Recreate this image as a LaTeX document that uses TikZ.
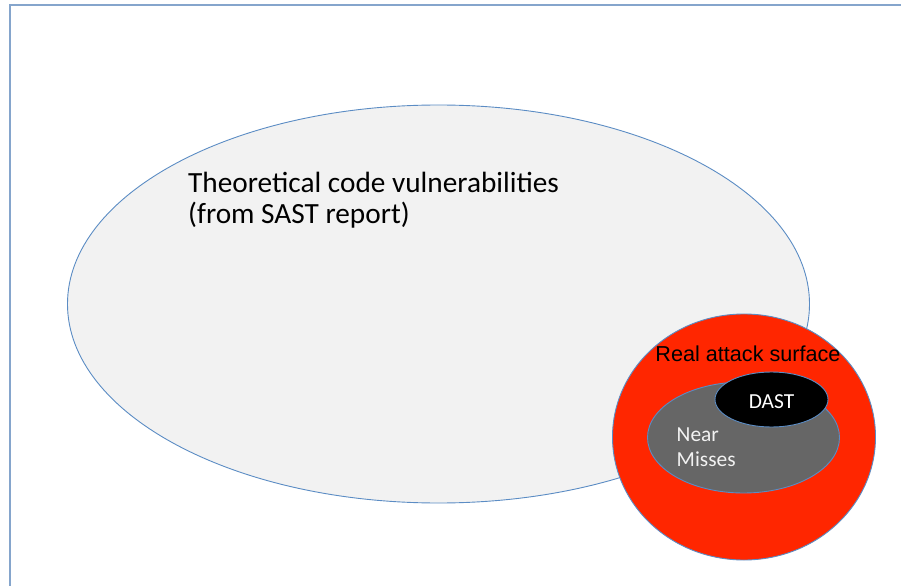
\documentclass[tikz,border=0pt]{standalone}
\usepackage{fontspec}
\setmainfont{Carlito}
\newfontfamily\arialfont{Liberation Sans}
\usetikzlibrary{shapes.geometric}
\definecolor{edgeblue}{HTML}{5B8CC4}
\definecolor{framecol}{HTML}{85A5CC}
\definecolor{paleg}{HTML}{F2F2F2}
\definecolor{redfill}{HTML}{FF2600}
\definecolor{grayfill}{HTML}{666666}
\definecolor{lighttext}{HTML}{F2F2F2}
\begin{document}
\begin{tikzpicture}[x=1bp,y=-1bp,
  blob/.style={ellipse,draw=edgeblue,line width=0.9bp,inner sep=0pt,minimum width=#1},
  frameline/.style={draw=framecol,line width=2.2bp}]
\useasboundingbox (0,0) rectangle (901,586);
\coordinate (tl) at (10,5);
\coordinate (tr) at (901,5);
\coordinate (bl) at (10,586);
\draw[frameline] (tr) -- (tl) -- (bl);
\node[blob=742bp,minimum height=398bp,fill=paleg] (theory) at (438.5,304) {};
\node[blob=263bp,minimum height=246bp,fill=redfill] (real) at (744,437) {};
\node[blob=192bp,minimum height=111bp,fill=grayfill] (near) at (743.5,437.5) {};
\node[blob=113bp,minimum height=55bp,fill=black] (dast) at (771.5,399.5) {};
\node[anchor=west,align=left,font=\fontsize{29.4}{31}\selectfont,inner sep=0pt] (theorylabel) at (188,200.5) {Theoretical code vulnerabilities\\(from SAST report)};
\node[font=\arialfont\fontsize{21.7}{26}\selectfont,inner sep=0pt] (reallabel) at (748,354) {Real attack surface};
\node[font=\fontsize{21.5}{25}\selectfont,text=white,inner sep=0pt] (dastlabel) at (771.5,402) {DAST};
\node[anchor=west,align=left,font=\fontsize{21.5}{25}\selectfont,text=lighttext,inner sep=0pt] (nearlabel) at (676.5,447) {Near\\Misses};
\end{tikzpicture}
\end{document}
